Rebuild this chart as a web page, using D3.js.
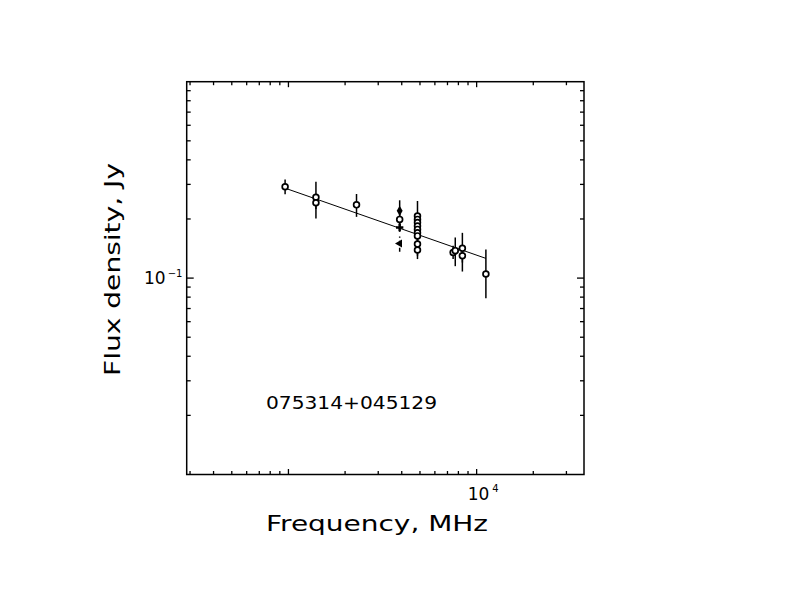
<!DOCTYPE html>
<html>
<head>
<meta charset="utf-8">
<script src="https://cdn.jsdelivr.net/npm/d3@7"></script>
<style>
  html, body { margin: 0; padding: 0; background: #fff; }
  text { font-family: "DejaVu Sans", sans-serif; fill: #000; }
</style>
</head>
<body>
<svg id="chart" width="792" height="612"></svg>
<script>
// ---- data ----
const sourceName = "075314+045129";
const xLabel = "Frequency, MHz";
const yLabel = "Flux density, Jy";

const freq   = [960, 1400, 1400, 2300, 3900, 3900, 3900, 3900,
                4850, 4850, 4850, 4850, 4850, 4850, 4850, 4850, 4850,
                7500, 7700, 8400, 8400, 11200];
const flux   = [0.292, 0.258, 0.242, 0.236, 0.220, 0.199, 0.181, 0.150,
                0.207, 0.199, 0.192, 0.184, 0.177, 0.170, 0.164, 0.149, 0.139,
                0.135, 0.138, 0.142, 0.130, 0.105];
const errLo  = [0.267, 0.201, 0.225, 0.205, 0.200, 0.186, 0.172, 0.136,
                0.125, 0.185, 0.180, 0.172, 0.166, 0.160, 0.155, 0.140, 0.130,
                0.125, 0.115, 0.108, 0.120, 0.079];
const errHi  = [0.318, 0.309, 0.260, 0.268, 0.249, 0.212, 0.192, 0.163,
                0.247, 0.213, 0.205, 0.197, 0.189, 0.181, 0.175, 0.158, 0.148,
                0.146, 0.161, 0.170, 0.140, 0.140];
const marker = ["o", "o", "o", "o", "diamond", "o", "cross", "triangle",
                "o", "o", "o", "o", "o", "o", "o", "o", "o",
                "o", "o", "o", "o", "o"];

const fitFreq = [960, 11200];
const fitFlux = [0.287, 0.126];

const xDomain = [288, 37200];
const yDomain = [0.01, 1];
const xMinorTicks = [300, 400, 500, 600, 700, 800, 900, 2000, 3000, 4000, 5000, 6000, 7000, 8000, 9000, 20000, 30000];
const xMajorTicks = [1000, 10000];
const yMinorTicks = [0.02, 0.03, 0.04, 0.05, 0.06, 0.07, 0.08, 0.09, 0.2, 0.3, 0.4, 0.5, 0.6, 0.7, 0.8, 0.9];
const yMajorTicks = [0.1];
const xTickLabels = [{v: 10000, base: "10", exp: "4"}];
const yTickLabels = [{v: 0.1, base: "10", exp: "\u22121"}];

// ---- layout ----
const L = 186.7, R = 584, T = 81.7, B = 474.5;
const svg = d3.select("#chart");
const x = d3.scaleLog().domain(xDomain).range([L, R]);
const y = d3.scaleLog().domain(yDomain).range([B, T]);

// frame
svg.append("rect").attr("x", L).attr("y", T).attr("width", R - L).attr("height", B - T)
  .attr("fill", "none").attr("stroke", "#000").attr("stroke-width", 1.5);

const g = svg.append("g").attr("stroke", "#000").attr("stroke-width", 1.3);
function xt(vals, len) {
  vals.forEach(v => {
    g.append("line").attr("x1", x(v)).attr("x2", x(v)).attr("y1", B).attr("y2", B - len);
    g.append("line").attr("x1", x(v)).attr("x2", x(v)).attr("y1", T).attr("y2", T + len);
  });
}
function yt(vals, len) {
  vals.forEach(v => {
    g.append("line").attr("y1", y(v)).attr("y2", y(v)).attr("x1", L).attr("x2", L + len);
    g.append("line").attr("y1", y(v)).attr("y2", y(v)).attr("x1", R).attr("x2", R - len);
  });
}
xt(xMinorTicks, 3.5); xt(xMajorTicks, 5.5);
yt(yMinorTicks, 4); yt(yMajorTicks, 7);

// tick labels
xTickLabels.forEach(d => {
  const t = svg.append("text").attr("x", x(d.v) - 9).attr("y", 500).attr("font-size", 17);
  t.append("tspan").text(d.base);
  t.append("tspan").attr("font-size", 10).attr("dx", 3).attr("dy", -8).text(d.exp);
});
yTickLabels.forEach(d => {
  const t = svg.append("text").attr("x", 144).attr("y", y(d.v) + 6).attr("font-size", 17);
  t.append("tspan").text(d.base);
  t.append("tspan").attr("font-size", 10).attr("dx", 2).attr("dy", -7).text(d.exp);
});

// axis labels
svg.append("text").attr("x", 266).attr("y", 531).attr("font-size", 22)
  .attr("textLength", 222).attr("lengthAdjust", "spacingAndGlyphs").text(xLabel);
svg.append("text").attr("transform", "translate(120,376) rotate(-90)").attr("font-size", 21)
  .attr("textLength", 213).attr("lengthAdjust", "spacingAndGlyphs").text(yLabel);

// source name
svg.append("text").attr("x", 266).attr("y", 409).attr("font-size", 17)
  .attr("textLength", 171).attr("lengthAdjust", "spacingAndGlyphs").text(sourceName);

// fit line
const line = d3.line().x(d => x(d[0])).y(d => y(d[1]));
svg.append("path").datum(fitFreq.map((f, i) => [f, fitFlux[i]]))
  .attr("d", line).attr("fill", "none").attr("stroke", "#000").attr("stroke-width", 1);

// data
const pts = freq.map((f, i) => ({f, s: flux[i], lo: errLo[i], hi: errHi[i], m: marker[i]}));
const eb = svg.append("g").attr("stroke", "#000").attr("stroke-width", 1.5);
pts.forEach(p => {
  eb.append("line").attr("x1", x(p.f)).attr("x2", x(p.f))
    .attr("y1", y(p.lo)).attr("y2", y(p.hi))
    .attr("stroke-dasharray", p.m === "triangle" ? "4,3" : null);
});
const mk = svg.append("g");
pts.forEach(p => {
  const cx = x(p.f), cy = y(p.s);
  if (p.m === "o") {
    mk.append("circle").attr("cx", cx).attr("cy", cy).attr("r", 2.9)
      .attr("fill", "#fff").attr("stroke", "#000").attr("stroke-width", 1.7);
  } else if (p.m === "diamond") {
    mk.append("path").attr("transform", `translate(${cx},${cy})`)
      .attr("d", d3.symbol().type(d3.symbolDiamond).size(30)()).attr("fill", "#000");
  } else if (p.m === "cross") {
    mk.append("path").attr("transform", `translate(${cx},${cy})`)
      .attr("d", d3.symbol().type(d3.symbolCross).size(30)()).attr("fill", "#000");
  } else if (p.m === "triangle") {
    mk.append("path").attr("transform", `translate(${cx},${cy}) rotate(-90)`)
      .attr("d", d3.symbol().type(d3.symbolTriangle).size(28)()).attr("fill", "#000");
  }
});
</script>
</body>
</html>
